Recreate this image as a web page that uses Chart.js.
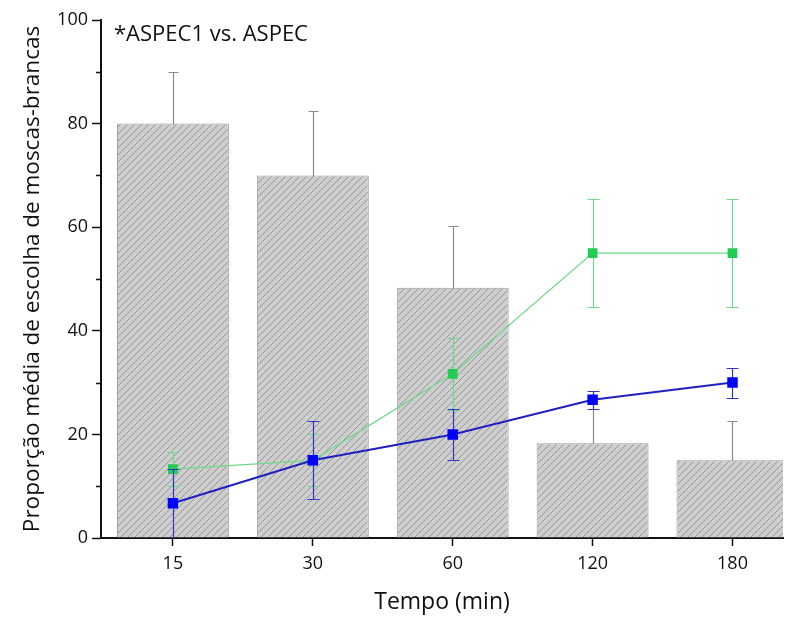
<!DOCTYPE html>
<html>
<head>
<meta charset="utf-8">
<script src="https://cdn.jsdelivr.net/npm/chart.js@4.4.1/dist/chart.umd.min.js"></script>
<style>
  html, body { margin: 0; padding: 0; background: #fff; }
  #wrap { width: 791px; height: 619px; }
</style>
</head>
<body>
<div id="wrap"><canvas id="myChart" width="791" height="619"></canvas></div>
<script>
const categories = ['15', '30', '60', '120', '180']
const barValues = [80, 70, 48.3, 18.3, 15]
const barErrors = [10, 12.5, 12, 10, 7.5]
const greenValues = [13.3, 15, 31.7, 55, 55]
const greenErrors = [3.3, 5, 7, 10.5, 10.5]
const blueValues = [6.7, 15, 20, 26.7, 30]
const blueErrors = [6.7, 7.5, 5, 1.7, 2.9]
const yTicks = [0, 20, 40, 60, 80, 100]
const yMinorTicks = [10, 30, 50, 70, 90]

const FONT = "'Open Sans', sans-serif"

window.addEventListener("load", function(){
    Chart.defaults.font.family = FONT
    Chart.defaults.color = '#111'

    // diagonal hatch for the bars
    const makeHatch = () => {
        const s = 7
        const c = document.createElement('canvas')
        c.width = s
        c.height = s
        const g = c.getContext('2d')
        g.fillStyle = '#cecece'
        g.fillRect(0, 0, s, s)
        g.strokeStyle = '#8f8f8f'
        g.lineWidth = 0.9
        g.beginPath()
        g.moveTo(0, s); g.lineTo(s, 0)
        g.moveTo(-1, 1); g.lineTo(1, -1)
        g.moveTo(s - 1, s + 1); g.lineTo(s + 1, s - 1)
        g.stroke()
        return g.createPattern(c, 'repeat')
    }

    const toPoints = values => values.map((v, i) => ({ x: i, y: v }))

    const errorSets = [barErrors, greenErrors, blueErrors]
    const errorColors = ['#8a8a8a', '#6fd98a', '#3535c8']
    const capWidths = [10, 12, 12]

    const errorBars = {
        id: 'errorBars',
        beforeDatasetDraw(chart, args) {
            const i = args.index
            const errs = errorSets[i]
            if (!errs) return
            const ds = chart.data.datasets[i]
            const xs = chart.scales.x, ys = chart.scales.y
            const ctx = chart.ctx
            ctx.save()
            ctx.strokeStyle = errorColors[i]
            ctx.lineWidth = 1.2
            ds.data.forEach((p, k) => {
                const px = Math.round(xs.getPixelForValue(p.x)) + 0.5
                const top = Math.round(ys.getPixelForValue(p.y + errs[k])) + 0.5
                const bot = Math.round(ys.getPixelForValue(Math.max(p.y - errs[k], 0))) + 0.5
                const hw = capWidths[i] / 2
                ctx.beginPath()
                ctx.moveTo(px, top); ctx.lineTo(px, bot)
                ctx.moveTo(px - hw, top); ctx.lineTo(px + hw, top)
                if (p.y - errs[k] > 0.1) {
                    ctx.moveTo(px - hw, bot); ctx.lineTo(px + hw, bot)
                }
                ctx.stroke()
            })
            ctx.restore()
        }
    }

    const extras = {
        id: 'extras',
        afterDraw(chart) {
            const ctx = chart.ctx
            const ys = chart.scales.y
            const left = chart.chartArea.left
            ctx.save()
            ctx.strokeStyle = '#111'
            ctx.lineWidth = 1.5
            yMinorTicks.forEach(v => {
                const py = Math.round(ys.getPixelForValue(v)) + 0.5
                ctx.beginPath()
                ctx.moveTo(left - 5, py); ctx.lineTo(left, py)
                ctx.stroke()
            })
            ctx.fillStyle = '#111'
            ctx.font = '22px ' + FONT
            ctx.textBaseline = 'middle'
            ctx.fillText('*ASPEC1 vs. ASPEC', 114, 35)
            ctx.restore()
        }
    }

    const ctx = document.getElementById("myChart")

    new Chart(ctx, {
        type: 'bar',
        data: {
            datasets: [{
                type: 'bar',
                data: toPoints(barValues),
                backgroundColor: makeHatch(),
                borderColor: '#9a9a9a',
                borderWidth: 1,
                barPercentage: 0.8,
                categoryPercentage: 1,
                order: 3
            }, {
                type: 'line',
                data: toPoints(greenValues),
                borderColor: '#6fd98a',
                borderWidth: 1.3,
                pointStyle: 'rect',
                pointRadius: 6,
                pointBackgroundColor: '#22cc55',
                pointBorderColor: '#22cc55',
                order: 2
            }, {
                type: 'line',
                data: toPoints(blueValues),
                borderColor: '#2020c0',
                borderWidth: 2,
                pointStyle: 'rect',
                pointRadius: 6,
                pointBackgroundColor: '#0000ff',
                pointBorderColor: '#0000ff',
                order: 1
            }]
        },
        options: {
            responsive: false,
            animation: false,
            layout: { padding: { top: 20, right: 0, left: 0, bottom: 0 } },
            plugins: {
                legend: { display: false },
                tooltip: { enabled: false },
                title: { display: false }
            },
            scales: {
                x: {
                    type: 'linear',
                    offset: false,
                    min: -0.514,
                    max: 4.361,
                    afterBuildTicks: scale => {
                        scale.ticks = categories.map((c, i) => ({ value: i }))
                    },
                    afterFit: scale => { scale.height = 81 },
                    ticks: {
                        callback: v => categories[v],
                        font: { size: 18 },
                        color: '#111',
                        padding: 7
                    },
                    grid: {
                        offset: false,
                        drawOnChartArea: false,
                        tickLength: 8,
                        tickWidth: 1.5,
                        tickColor: '#111'
                    },
                    border: { display: true, color: '#111', width: 2 },
                    title: {
                        display: true,
                        text: 'Tempo (min)',
                        font: { size: 23 },
                        color: '#111',
                        padding: { top: 6, bottom: 3 }
                    }
                },
                y: {
                    min: 0,
                    max: 100,
                    afterBuildTicks: scale => {
                        scale.ticks = yTicks.map(v => ({ value: v }))
                    },
                    afterFit: scale => { scale.width = 101 },
                    ticks: {
                        font: { size: 18 },
                        color: '#111',
                        padding: 4
                    },
                    grid: {
                        drawOnChartArea: false,
                        tickLength: 9,
                        tickWidth: 1.5,
                        tickColor: '#111'
                    },
                    border: { display: true, color: '#111', width: 2 },
                    title: {
                        display: true,
                        text: 'Proporção média de escolha de moscas-brancas',
                        font: { size: 22.5 },
                        color: '#111',
                        padding: { top: 19, bottom: 4 }
                    }
                }
            }
        },
        plugins: [errorBars, extras]
    })
})
</script>
</body>
</html>
